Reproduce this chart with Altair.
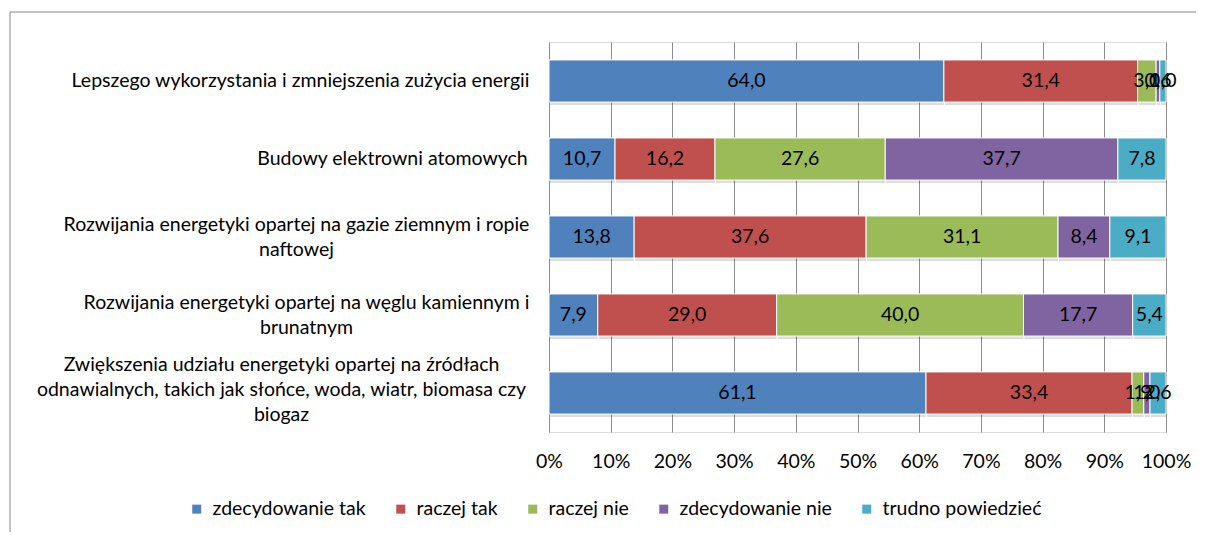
import json
import altair as alt
import pandas as pd

categories = [
    "Lepszego wykorzystania i zmniejszenia zużycia energii",
    "Budowy elektrowni atomowych",
    "Rozwijania energetyki opartej na gazie ziemnym i ropie|naftowej",
    "Rozwijania energetyki opartej na węglu kamiennym i|brunatnym",
    "Zwiększenia udziału energetyki opartej na źródłach|odnawialnych, takich jak słońce, woda, wiatr, biomasa czy|biogaz",
]
series = ["zdecydowanie tak", "raczej tak", "raczej nie", "zdecydowanie nie", "trudno powiedzieć"]
zdecydowanie_tak = [64.0, 10.7, 13.8, 7.9, 61.1]
raczej_tak = [31.4, 16.2, 37.6, 29.0, 33.4]
raczej_nie = [3.0, 27.6, 31.1, 40.0, 1.9]
zdecydowanie_nie = [0.6, 37.7, 8.4, 17.7, 1.0]
trudno_powiedziec = [1.0, 7.8, 9.1, 5.4, 2.6]
colors = ["#4F81BD", "#C0504D", "#9BBB59", "#8064A2", "#4BACC6"]
x_ticks = [0, 0.1, 0.2, 0.3, 0.4, 0.5, 0.6, 0.7, 0.8, 0.9, 1.0]

values = [zdecydowanie_tak, raczej_tak, raczej_nie, zdecydowanie_nie, trudno_powiedziec]
rows = []
for i, cat in enumerate(categories):
    total = sum(v[i] for v in values)
    acc = 0.0
    for j, s in enumerate(series):
        v = values[j][i]
        start = acc / total
        acc += v
        end = acc / total
        rows.append({
            "cat": cat, "series": s, "order": j, "value": v,
            "start": start, "end": end, "mid": (start + end) / 2,
            "label": f"{v:.1f}".replace(".", ","),
        })
df = pd.DataFrame(rows)

FONT = "Lato"
FS = 19.5
W, H = 617, 390

# per-label padding / offset so multi-line blocks are centred like in the original
pads = [249, 157, 253, 243, 268]
offs = [0, 0, -12, -12, -28]
pad_cond = {
    "condition": [{"test": f"datum.value == {json.dumps(c)}", "value": p} for c, p in zip(categories, pads)],
    "value": 21,
}
off_cond = {
    "condition": [{"test": f"datum.value == {json.dumps(c)}", "value": o} for c, o in zip(categories, offs)],
    "value": 0,
}

y_scale = alt.Scale(paddingInner=0.46, paddingOuter=0.23)
x_scale = alt.Scale(domain=[0, 1], nice=False)

y_enc = alt.Y("cat:N", sort=categories, title=None, scale=y_scale,
              axis=alt.Axis(domain=False, ticks=False, labelExpr="split(datum.label, '|')",
                            labelAlign="center", labelBaseline="middle", labelPadding=pad_cond,
                            labelOffset=off_cond,
                            labelFont=FONT, labelFontSize=FS, labelColor="black",
                            labelLineHeight=25, labelLimit=0))

base = alt.Chart(df)

shadow = base.mark_bar(color="black", opacity=0.13, yOffset=3, xOffset=1).encode(
    x=alt.X("start:Q", scale=x_scale),
    x2="end:Q",
    y=alt.Y("cat:N", sort=categories, scale=y_scale),
)

bars = base.mark_bar(stroke="white", strokeWidth=1).encode(
    x=alt.X("start:Q", scale=x_scale, title=None,
            axis=alt.Axis(format=".0%", values=x_ticks, grid=True, gridColor="#8C8C8C",
                          domain=False, ticks=False, labelPadding=20, labelOverlap=False,
                          labelFlush=False,
                          labelFont=FONT, labelFontSize=FS, labelColor="black")),
    x2="end:Q",
    y=y_enc,
    color=alt.Color("series:N", sort=series,
                    scale=alt.Scale(domain=series, range=colors),
                    legend=alt.Legend(title=None, orient="none", direction="horizontal",
                                      legendX=-362, legendY=457, symbolType="square",
                                      symbolSize=81, symbolStrokeWidth=0, labelFont=FONT,
                                      labelFontSize=FS, labelColor="black", columnPadding=25,
                                      labelOffset=6, padding=0)),
    order="order:Q",
)

texts = base.mark_text(font=FONT, fontSize=FS, color="black", baseline="middle").encode(
    x="mid:Q",
    y=alt.Y("cat:N", sort=categories),
    text="label:N",
)

frame = alt.Chart(pd.DataFrame({"a": [0]})).mark_rect(fill=None, stroke="#868686", strokeWidth=1).encode(
    x=alt.value(-539), x2=alt.value(W + 300), y=alt.value(-30), y2=alt.value(H + 300)
)

chart = alt.layer(frame, shadow, bars, texts).properties(
    width=W, height=H,
    autosize="none",
    padding={"left": 541, "top": 34, "right": 30, "bottom": 100},
).configure_view(stroke=None).configure(background="white")

chart.save("out.html", embed_options={"renderer": "svg", "actions": False})
